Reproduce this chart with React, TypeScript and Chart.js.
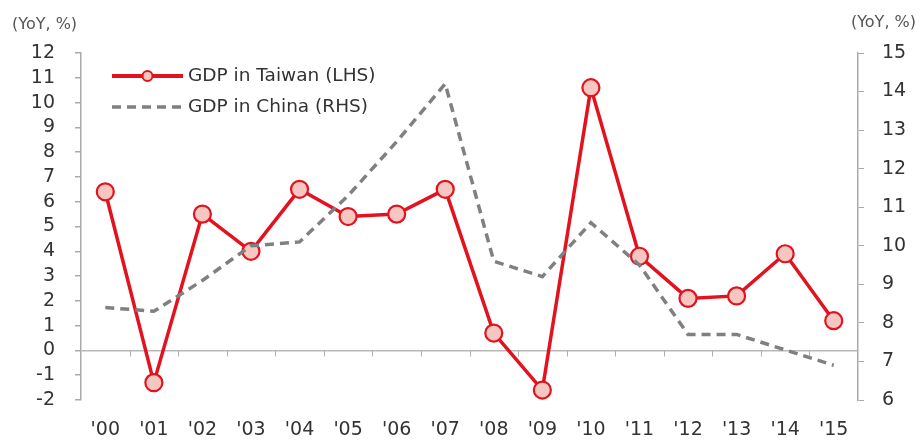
import React, { useEffect, useRef } from "react";
import { Chart, registerables } from "chart.js";

Chart.register(...registerables);

const years = ["'00", "'01", "'02", "'03", "'04", "'05", "'06", "'07", "'08", "'09", "'10", "'11", "'12", "'13", "'14", "'15"];
const taiwanGdp = [6.4, -1.3, 5.5, 4.0, 6.5, 5.4, 5.5, 6.5, 0.7, -1.6, 10.6, 3.8, 2.1, 2.2, 3.9, 1.2];
const chinaGdp = [8.4, 8.3, 9.1, 10.0, 10.1, 11.3, 12.7, 14.2, 9.6, 9.2, 10.6, 9.5, 7.7, 7.7, 7.3, 6.9];
const leftTitle = "(YoY, %)";
const rightTitle = "(YoY, %)";
const taiwanLabel = "GDP in Taiwan (LHS)";
const chinaLabel = "GDP in China (RHS)";

const RED = "#e3121f";
const PINK = "#f6c6c0";
const GRAY = "#808080";
const FONT = "'DejaVu Sans', Verdana, sans-serif";

const extrasPlugin = {
  id: "extras",
  afterDraw(chart: any) {
    const { ctx, chartArea, scales } = chart;
    const x = scales.x;
    const y = scales.y;
    const y1 = scales.y1;
    ctx.save();
    // zero-line ticks at category boundaries
    const zy = y.getPixelForValue(0);
    ctx.strokeStyle = "#b0b0b0";
    ctx.lineWidth = 1;
    for (let i = 0; i < years.length - 1; i++) {
      const bx = Math.round((x.getPixelForTick(i) + x.getPixelForTick(i + 1)) / 2) + 0.5;
      ctx.beginPath();
      ctx.moveTo(bx, zy);
      ctx.lineTo(bx, zy + 6);
      ctx.stroke();
    }
    // axis titles
    ctx.fillStyle = "#555";
    ctx.font = `16px ${FONT}`;
    ctx.textBaseline = "middle";
    ctx.textAlign = "left";
    ctx.fillText(leftTitle, y.left + 12, chartArea.top - 28);
    ctx.textAlign = "right";
    ctx.fillText(rightTitle, y1.right - 6, chartArea.top - 30);
    // legend
    const lx = chartArea.left + 31;
    const lw = 71;
    const ly1 = chartArea.top + 23;
    const ly2 = chartArea.top + 54;
    ctx.strokeStyle = RED;
    ctx.lineWidth = 4;
    ctx.beginPath();
    ctx.moveTo(lx, ly1);
    ctx.lineTo(lx + lw, ly1);
    ctx.stroke();
    ctx.beginPath();
    ctx.arc(lx + lw / 2, ly1, 5, 0, Math.PI * 2);
    ctx.fillStyle = PINK;
    ctx.fill();
    ctx.lineWidth = 2;
    ctx.strokeStyle = RED;
    ctx.stroke();
    ctx.strokeStyle = GRAY;
    ctx.lineWidth = 3.5;
    ctx.setLineDash([9, 6]);
    ctx.beginPath();
    ctx.moveTo(lx, ly2);
    ctx.lineTo(lx + lw, ly2);
    ctx.stroke();
    ctx.setLineDash([]);
    ctx.fillStyle = "#333";
    ctx.font = `18.5px ${FONT}`;
    ctx.textAlign = "left";
    ctx.fillText(taiwanLabel, lx + lw + 5, ly1);
    ctx.fillText(chinaLabel, lx + lw + 5, ly2);
    ctx.restore();
  },
};

function GdpChart() {
  const ref = useRef<HTMLCanvasElement | null>(null);
  useEffect(() => {
    if (!ref.current) return;
    const chart = new Chart(ref.current, {
      type: "line",
      data: {
        labels: years,
        datasets: [
          {
            label: chinaLabel,
            data: chinaGdp,
            yAxisID: "y1",
            borderColor: GRAY,
            borderWidth: 3.5,
            borderDash: [9, 6],
            pointRadius: 0,
            fill: false,
            tension: 0,
          },
          {
            label: taiwanLabel,
            data: taiwanGdp,
            yAxisID: "y",
            borderColor: RED,
            borderWidth: 3.5,
            pointRadius: 8.5,
            pointBackgroundColor: PINK,
            pointBorderColor: RED,
            pointBorderWidth: 2.2,
            fill: false,
            tension: 0,
          },
        ],
      },
      options: {
        responsive: false,
        animation: false,
        layout: { padding: { top: 53, left: 0, right: 0, bottom: 0 } },
        plugins: { legend: { display: false }, tooltip: { enabled: false } },
        scales: {
          x: {
            offset: true,
            grid: { display: false, drawTicks: false },
            border: { display: false },
            ticks: { color: "#333", font: { family: FONT, size: 19 }, padding: 19, maxRotation: 0, autoSkip: false },
            afterFit(scale: any) {
              scale.height = 42;
            },
          },
          y: {
            position: "left",
            min: -2,
            max: 12,
            ticks: { stepSize: 1, autoSkip: false, color: "#333", font: { family: FONT, size: 19 }, padding: 20 },
            grid: {
              color: (c: any) => (c.tick && c.tick.value === 0 ? "#b8b8b8" : "rgba(0,0,0,0)"),
              tickColor: "#aaa",
              tickLength: 6,
              lineWidth: 1.5,
            },
            border: { display: true, color: "#aaa", width: 1.5 },
            afterFit(scale: any) {
              scale.width = 81;
            },
          },
          y1: {
            position: "right",
            min: 6,
            max: 15,
            ticks: { stepSize: 1, autoSkip: false, color: "#333", font: { family: FONT, size: 19 }, padding: 18 },
            grid: { drawOnChartArea: false, tickColor: "#aaa", tickLength: 6 },
            border: { display: true, color: "#aaa", width: 1.5 },
            afterFit(scale: any) {
              scale.width = 64;
            },
          },
        },
      },
      plugins: [extrasPlugin],
    });
    return () => chart.destroy();
  }, []);
  return <canvas ref={ref} width={922} height={442} style={{ display: "block" }} />;
}

export default function App() {
  return (
    <div style={{ position: "fixed", left: 0, top: 0, width: 922, height: 442, background: "#fff" }}>
      <GdpChart />
    </div>
  );
}
